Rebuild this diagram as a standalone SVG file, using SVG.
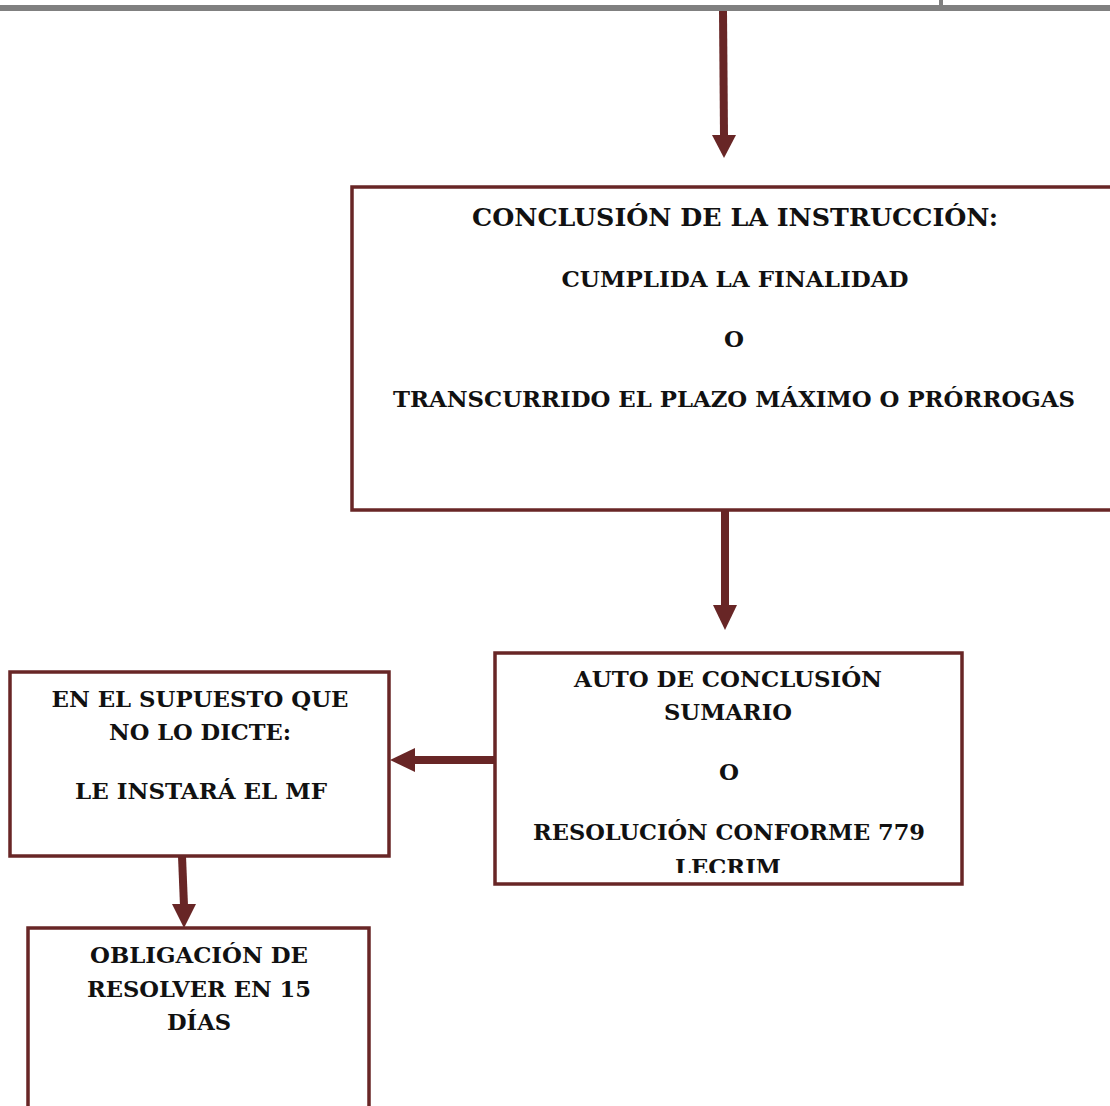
<svg xmlns="http://www.w3.org/2000/svg" width="1110" height="1106" viewBox="0 0 1110 1106">
<defs>
<style>
.box{fill:#fff;stroke:#682626;stroke-width:3.5}
.t{font-family:"DejaVu Serif","Liberation Serif",serif;font-weight:bold;fill:#111;text-anchor:middle;font-size:23px}
.c{stroke:#682626;stroke-width:8;fill:none}
.h{fill:#682626}
</style>
<clipPath id="clipB2"><rect x="495" y="652" width="467" height="221"/></clipPath>
</defs>
<rect x="0" y="5" width="1110" height="6" fill="#808080"/>
<rect x="939" y="0" width="4" height="6" fill="#808080"/>
<g id="connectors">
<line class="c" x1="723" y1="11" x2="724" y2="136"/>
<polygon class="h" points="712,135 736,135 724,158"/>
<line class="c" x1="725" y1="511" x2="725" y2="607"/>
<polygon class="h" points="713,605 737,605 725,630"/>
<line class="c" x1="495" y1="760" x2="412" y2="760"/>
<polygon class="h" points="415,748 415,772 390,760"/>
<line class="c" x1="182" y1="856" x2="184" y2="906"/>
<polygon class="h" points="172,904 196,904 184,928"/>
</g>
<g id="node1">
<rect class="box" x="352" y="187" width="762" height="323"/>
<text class="t" x="735" y="226" style="font-size:24px" textLength="526" lengthAdjust="spacingAndGlyphs">CONCLUSIÓN DE LA INSTRUCCIÓN:</text>
<text class="t" x="735" y="287" textLength="347" lengthAdjust="spacingAndGlyphs">CUMPLIDA LA FINALIDAD</text>
<text class="t" x="734" y="347" textLength="20" lengthAdjust="spacingAndGlyphs">O</text>
<text class="t" x="734" y="407" textLength="682" lengthAdjust="spacingAndGlyphs">TRANSCURRIDO EL PLAZO MÁXIMO O PRÓRROGAS</text>
</g>
<g id="node2">
<rect class="box" x="495" y="653" width="467" height="231"/>
<g clip-path="url(#clipB2)">
<text class="t" x="728" y="687" textLength="308" lengthAdjust="spacingAndGlyphs">AUTO DE CONCLUSIÓN</text>
<text class="t" x="728" y="720" textLength="128" lengthAdjust="spacingAndGlyphs">SUMARIO</text>
<text class="t" x="729" y="780" textLength="20" lengthAdjust="spacingAndGlyphs">O</text>
<text class="t" x="729" y="840" textLength="392" lengthAdjust="spacingAndGlyphs">RESOLUCIÓN CONFORME 779</text>
<text class="t" x="728" y="875" textLength="106" lengthAdjust="spacingAndGlyphs">LECRIM</text>
</g>
</g>
<g id="node3">
<rect class="box" x="10" y="672" width="379" height="184"/>
<text class="t" x="200" y="707" textLength="297" lengthAdjust="spacingAndGlyphs">EN EL SUPUESTO QUE</text>
<text class="t" x="200" y="740" textLength="182" lengthAdjust="spacingAndGlyphs">NO LO DICTE:</text>
<text class="t" x="201" y="799" textLength="252" lengthAdjust="spacingAndGlyphs">LE INSTARÁ EL MF</text>
</g>
<g id="node4">
<rect class="box" x="28" y="928" width="341" height="200"/>
<text class="t" x="199" y="963" textLength="218" lengthAdjust="spacingAndGlyphs">OBLIGACIÓN DE</text>
<text class="t" x="199" y="997" textLength="224" lengthAdjust="spacingAndGlyphs">RESOLVER EN 15</text>
<text class="t" x="199" y="1030" textLength="64" lengthAdjust="spacingAndGlyphs">DÍAS</text>
</g>
</svg>
